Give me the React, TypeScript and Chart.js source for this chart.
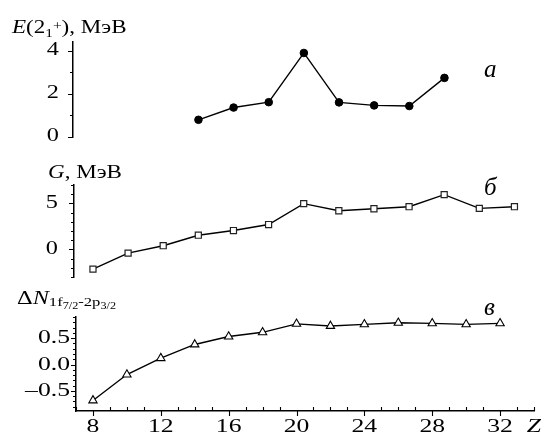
import React, { useEffect, useRef } from "react";
import { Chart, registerables } from "chart.js";

Chart.register(...registerables);

// Panel "а": E(2_1^+), MeV vs Z
const zA = [14, 16, 18, 20, 22, 24, 26, 28];
const eA = [0.78, 1.35, 1.6, 3.89, 1.59, 1.45, 1.42, 2.73];
// Panel "б": G, MeV vs Z
const zB = [8, 10, 12, 14, 16, 18, 20, 22, 24, 26, 28, 30, 32];
const gB = [-2.15, -0.41, 0.4, 1.54, 2.05, 2.7, 4.97, 4.2, 4.42, 4.64, 5.95, 4.46, 4.64];
// Panel "в": ΔN(1f7/2 - 2p3/2) vs Z
const zC = [8, 10, 12, 14, 16, 18, 20, 22, 24, 26, 28, 30, 32];
const nC = [-0.68, -0.19, 0.12, 0.38, 0.53, 0.61, 0.77, 0.73, 0.76, 0.79, 0.78, 0.76, 0.78];

// Tick labels
const xTickLabels = [8, 12, 16, 20, 24, 28, 32];
const xAxisName = "Z";
const yTicksA = [0, 2, 4];
const yTicksB = [0, 5];
const yTicksC = [-0.5, 0, 0.5];

const SERIF = '"Liberation Serif", "Times New Roman", serif';
const SX = 1.35;
const TITLE_SX = 1.28;

function range(a: number, b: number, s: number): number[] {
  const out: number[] = [];
  const n = Math.round((b - a) / s);
  for (let i = 0; i <= n; i++) out.push(+(a + i * s).toFixed(6));
  return out;
}

function patchCtx(ctx: any) {
  const proto = CanvasRenderingContext2D.prototype.fillText;
  ctx.__sx = SX;
  ctx.fillText = function (text: string, x: number, y: number) {
    const sx = ctx.__sx || 1;
    if (sx === 1) {
      proto.call(ctx, text, x, y);
      return;
    }
    ctx.save();
    ctx.translate(x, y);
    ctx.scale(sx, 1);
    proto.call(ctx, text, 0, 0);
    ctx.restore();
  };
}

type TickSpec = { yMinor: number[]; yMajor: number[]; xMinor?: number[]; xMajor?: number[] };

function makeTicksPlugin(spec: TickSpec) {
  return {
    id: "axisTicks",
    afterDraw(chart: any) {
      const { ctx, chartArea } = chart;
      const { left, bottom } = chartArea;
      ctx.save();
      ctx.strokeStyle = "#000";
      ctx.lineWidth = 1.1;
      ctx.beginPath();
      const ys = chart.scales.y;
      spec.yMinor.forEach((v) => {
        const p = Math.round(ys.getPixelForValue(v)) + 0.5;
        const major = spec.yMajor.some((m) => Math.abs(m - v) < 1e-6);
        const len = major ? 5 : 3;
        ctx.moveTo(left - len, p);
        ctx.lineTo(left, p);
      });
      if (spec.xMinor) {
        const xs = chart.scales.x;
        spec.xMinor.forEach((v) => {
          const p = Math.round(xs.getPixelForValue(v)) + 0.5;
          const major = (spec.xMajor || []).some((m) => Math.abs(m - v) < 1e-6);
          if (major) {
            ctx.moveTo(p, bottom);
            ctx.lineTo(p, bottom + 5);
          } else {
            ctx.moveTo(p, bottom);
            ctx.lineTo(p, bottom - 4);
          }
        });
      }
      ctx.stroke();
      ctx.restore();
    },
  };
}

type Run = { t: string; size: number; italic?: boolean; dy?: number };
type TextItem = { x: number; y: number; sx: number; runs: Run[] };

function makeTextPlugin(items: TextItem[]) {
  return {
    id: "panelText",
    afterDraw(chart: any) {
      const ctx = chart.ctx as any;
      ctx.save();
      ctx.fillStyle = "#000";
      ctx.textAlign = "left";
      ctx.textBaseline = "alphabetic";
      const prev = ctx.__sx;
      items.forEach((item) => {
        ctx.__sx = item.sx;
        let x = item.x;
        item.runs.forEach((r) => {
          ctx.font = `${r.italic ? "italic " : ""}${r.size}px ${SERIF}`;
          ctx.fillText(r.t, x, item.y + (r.dy || 0));
          x += ctx.measureText(r.t).width * item.sx;
        });
      });
      ctx.__sx = prev;
      ctx.restore();
    },
  };
}

function yAxis(min: number, max: number, labels: number[], pad: number, size: number, width: number, fmt: (v: number) => string) {
  return {
    type: "linear",
    position: "left",
    min,
    max,
    grid: { display: false, drawTicks: false },
    border: { display: true, color: "#000", width: 1.5 },
    ticks: {
      color: "#000",
      padding: pad,
      autoSkip: false,
      font: { family: SERIF, size },
      callback: (v: number) => fmt(v),
    },
    afterBuildTicks: (s: any) => {
      s.ticks = labels.map((v) => ({ value: v }));
    },
    afterFit: (s: any) => {
      s.width = width;
      s.paddingTop = 0;
      s.paddingBottom = 0;
      s.paddingLeft = 0;
      s.paddingRight = 0;
    },
  };
}

function lineDataset(xs: number[], ys: number[], style: any) {
  return {
    data: xs.map((x, i) => ({ x, y: ys[i] })),
    borderColor: "#000",
    borderWidth: 1.4,
    tension: 0,
    fill: false,
    clip: false,
    ...style,
  };
}

const baseOpts = {
  responsive: false,
  animation: false,
  events: [],
  plugins: { legend: { display: false }, tooltip: { enabled: false }, title: { display: false } },
};

function configA(): any {
  return {
    type: "line",
    data: {
      datasets: [
        lineDataset(zA, eA, {
          pointStyle: "circle",
          pointRadius: 3.8,
          pointBackgroundColor: "#000",
          pointBorderColor: "#000",
          pointBorderWidth: 1,
        }),
      ],
    },
    options: {
      ...baseOpts,
      layout: { padding: { left: 0, right: 5.2, top: 42, bottom: 301 } },
      scales: {
        x: { type: "linear", display: false, min: 6.86, max: 33.2 },
        y: yAxis(-0.02, 4.4, yTicksA, 14, 18, 73, (v) => String(v)),
      },
    },
    plugins: [
      makeTicksPlugin({ yMinor: range(0, 4, 1), yMajor: yTicksA }),
      makeTextPlugin([
        {
          x: 12,
          y: 33,
          sx: TITLE_SX,
          runs: [
            { t: "E", size: 18, italic: true },
            { t: "(2", size: 18 },
            { t: "1", size: 12, dy: 3.5 },
            { t: "+", size: 12, dy: -3 },
            { t: "), МэВ", size: 18 },
          ],
        },
        { x: 484, y: 77, sx: 1, runs: [{ t: "а", size: 25, italic: true }] },
      ]),
    ],
  };
}

function configB(): any {
  return {
    type: "line",
    data: {
      datasets: [
        lineDataset(zB, gB, {
          pointStyle: "rect",
          pointRadius: 4.3,
          pointBackgroundColor: "#fff",
          pointBorderColor: "#222",
          pointBorderWidth: 1.2,
        }),
      ],
    },
    options: {
      ...baseOpts,
      layout: { padding: { left: 0, right: 5.2, top: 185, bottom: 161 } },
      scales: {
        x: { type: "linear", display: false, min: 6.92, max: 33.2 },
        y: yAxis(-3, 7, yTicksB, 16, 18, 74, (v) => String(v)),
      },
    },
    plugins: [
      makeTicksPlugin({ yMinor: range(-3, 7, 1), yMajor: yTicksB }),
      makeTextPlugin([
        {
          x: 48,
          y: 178,
          sx: TITLE_SX,
          runs: [
            { t: "G", size: 18, italic: true },
            { t: ", МэВ", size: 18 },
          ],
        },
        { x: 484, y: 195, sx: 1, runs: [{ t: "б", size: 25, italic: true }] },
      ]),
    ],
  };
}

function fmtC(v: number): string {
  if (Math.abs(v) < 1e-9) return "0.0";
  return v < 0 ? "\u2013" + Math.abs(v).toFixed(1) : v.toFixed(1);
}

function configC(): any {
  return {
    type: "line",
    data: {
      datasets: [
        lineDataset(zC, nC, {
          pointStyle: "triangle",
          pointRadius: 4.8,
          pointBackgroundColor: "#fff",
          pointBorderColor: "#000",
          pointBorderWidth: 1.1,
        }),
      ],
    },
    options: {
      ...baseOpts,
      layout: { padding: { left: 0, right: 7, top: 317, bottom: 0 } },
      scales: {
        x: {
          type: "linear",
          position: "bottom",
          min: 7,
          max: 34,
          grid: { display: false, drawTicks: false },
          border: { display: true, color: "#000", width: 1.5 },
          ticks: {
            color: "#000",
            padding: 5,
            maxRotation: 0,
            autoSkip: false,
            font: (c: any) => ({
              family: SERIF,
              size: 19,
              style: c.tick && c.tick.value === 34 ? "italic" : "normal",
            }),
            callback: (v: number) => (v === 34 ? xAxisName : String(v)),
          },
          afterBuildTicks: (s: any) => {
            s.ticks = [...xTickLabels, 34].map((v) => ({ value: v }));
          },
          afterFit: (s: any) => {
            s.height = 27;
            s.paddingLeft = 0;
            s.paddingRight = 0;
            s.paddingTop = 0;
            s.paddingBottom = 0;
          },
        },
        y: yAxis(-0.88, 0.9, yTicksC, 6, 19, 76, fmtC),
      },
    },
    plugins: [
      makeTicksPlugin({
        yMinor: range(-0.8, 0.9, 0.1),
        yMajor: yTicksC,
        xMinor: range(7, 34, 1),
        xMajor: xTickLabels,
      }),
      makeTextPlugin([
        {
          x: 17,
          y: 304,
          sx: TITLE_SX,
          runs: [
            { t: "\u0394", size: 19 },
            { t: "N", size: 19, italic: true },
            { t: "1f", size: 13, dy: 2 },
            { t: "7/2", size: 9.5, dy: 4.5 },
            { t: "-2p", size: 13, dy: 2 },
            { t: "3/2", size: 9.5, dy: 4.5 },
          ],
        },
        { x: 484, y: 315, sx: 1, runs: [{ t: "в", size: 25, italic: true }] },
      ]),
    ],
  };
}

export default function App() {
  const refA = useRef<HTMLCanvasElement | null>(null);
  const refB = useRef<HTMLCanvasElement | null>(null);
  const refC = useRef<HTMLCanvasElement | null>(null);

  useEffect(() => {
    const pairs: [HTMLCanvasElement | null, () => any][] = [
      [refA.current, configA],
      [refB.current, configB],
      [refC.current, configC],
    ];
    const charts = pairs.map(([canvas, cfg]) => {
      const ctx = canvas!.getContext("2d");
      patchCtx(ctx);
      return new Chart(canvas!, cfg());
    });
    return () => charts.forEach((c) => c.destroy());
  }, []);

  const cs: React.CSSProperties = { position: "absolute", left: 0, top: 0, width: 541, height: 438 };
  return (
    <div style={{ position: "absolute", left: 0, top: 0, width: 541, height: 438, background: "#fff", overflow: "hidden" }}>
      <canvas ref={refA} width={541} height={438} style={cs} />
      <canvas ref={refB} width={541} height={438} style={cs} />
      <canvas ref={refC} width={541} height={438} style={cs} />
    </div>
  );
}
